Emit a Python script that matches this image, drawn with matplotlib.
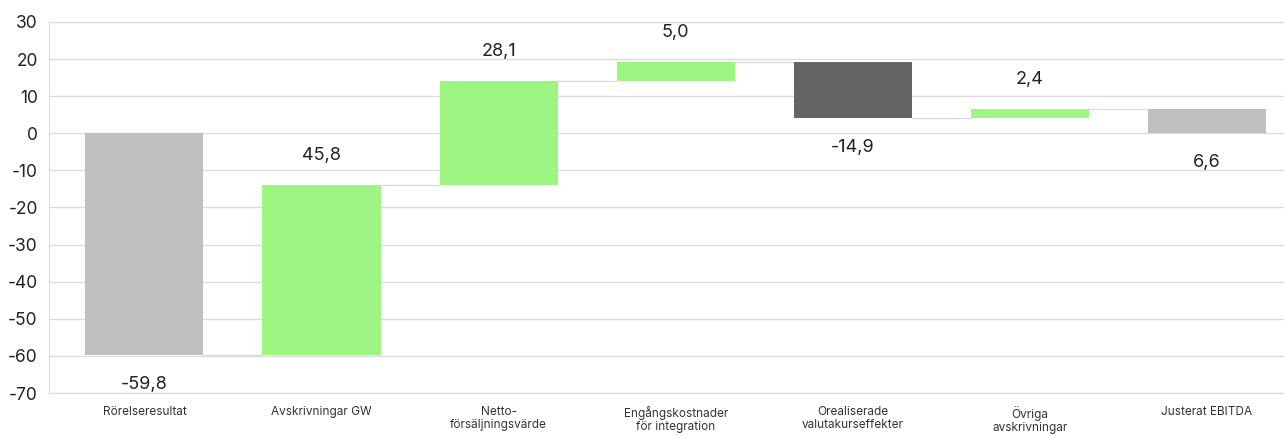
import numpy as np
import matplotlib
matplotlib.use('Agg')
import matplotlib.pyplot as plt

# waterfall data (MSEK)
categories = ['Rörelseresultat', 'Avskrivningar GW', 'Netto-\nförsäljningsvärde',
              'Engångskostnader\nför integration', 'Orealiserade\nvalutakurseffekter',
              'Övriga\navskrivningar', 'Justerat EBITDA']
changes = [-59.8, 45.8, 28.1, 5.0, -14.9, 2.4, 6.6]
is_total = [True, False, False, False, False, False, True]
labels = ['-59,8', '45,8', '28,1', '5,0', '-14,9', '2,4', '6,6']
yticks = list(range(-70, 31, 10))

GREY = '#bfbfbf'
GREEN = '#9ff582'
DARK = '#646464'
GRID = '#dcdcdc'

plt.rcParams['font.family'] = ['Inter', 'DejaVu Sans']

fig = plt.figure(figsize=(12.84, 4.36), dpi=100)
ax = fig.add_axes([0.038, 0.0986, 0.962, 0.851])

x = np.arange(len(categories))
bottoms, tops, colors, levels = [], [], [], []
running = 0.0
for c, tot in zip(changes, is_total):
    if tot:
        lo, hi = sorted((0.0, c))
        running = c
        colors.append(GREY)
    else:
        start = running
        running = start + c
        lo, hi = sorted((start, running))
        colors.append(GREEN if c > 0 else DARK)
    bottoms.append(lo)
    tops.append(hi)
    levels.append(running)
bottoms = np.array(bottoms)
tops = np.array(tops)

width = 0.667
ax.bar(x, tops - bottoms, bottom=bottoms, width=width, color=colors, zorder=3)

# connector lines between bars
for i in range(len(x) - 1):
    ax.plot([x[i] + width / 2, x[i + 1] - width / 2], [levels[i], levels[i]],
            color=GRID, lw=1, zorder=2)

# value labels: increases above the bar, the rest below
offset = 8
for i, (c, lab) in enumerate(zip(changes, labels)):
    if c > 0 and not is_total[i]:
        ypos = tops[i] + offset
    else:
        ypos = bottoms[i] - offset
    ax.text(x[i], ypos, lab, ha='center', va='center', fontsize=13,
            color='#222222')

ax.set_xlim(-0.54, 6.435)
ax.set_ylim(-70, 30)
ax.set_yticks(yticks)
ax.set_yticklabels([str(t) for t in yticks])
ax.set_xticks(x)
ax.set_xticklabels(categories, fontsize=8.5, color='#333333', va='top')
ax.grid(axis='y', color=GRID, lw=1, zorder=0)
for line in ax.get_ygridlines():
    line.set_clip_on(False)
for s in ['top', 'right', 'bottom']:
    ax.spines[s].set_visible(False)
ax.spines['left'].set_color(GRID)
ax.tick_params(axis='y', length=0, labelsize=12.5, colors='#222222', pad=8)
ax.tick_params(axis='x', length=0, pad=9)

fig.savefig('out.png', dpi=100)
